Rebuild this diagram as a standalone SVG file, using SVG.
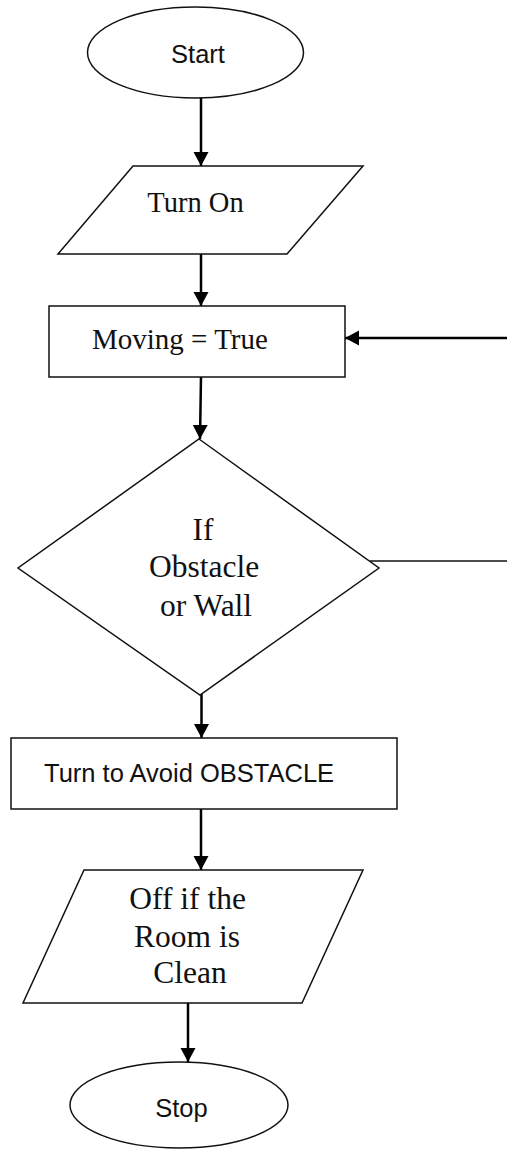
<svg xmlns="http://www.w3.org/2000/svg" width="507" height="1149" viewBox="0 0 507 1149">
<style>
.shape{fill:#fff;stroke:#111;stroke-width:1.5}
.conn{fill:none;stroke:#000;stroke-width:2.5}
.plain{fill:none;stroke:#111;stroke-width:1.5}
.sans{font-family:"Liberation Sans",Arial,sans-serif;font-size:25.5px;fill:#111}
.serif{font-family:"Liberation Serif","Times New Roman",serif;fill:#111}
</style>
<defs>
<marker id="ah" markerUnits="userSpaceOnUse" markerWidth="16" markerHeight="16" refX="14" refY="7.5" orient="auto">
<path d="M0,0 L14,7.5 L0,15 z" fill="#000"/>
</marker>
</defs>
<rect width="507" height="1149" fill="#fff"/>
<g id="connectors">
<line class="conn" x1="201" y1="98" x2="201" y2="166" marker-end="url(#ah)"/>
<line class="conn" x1="201" y1="254" x2="201" y2="306" marker-end="url(#ah)"/>
<line class="conn" x1="507" y1="338" x2="345" y2="338" marker-end="url(#ah)"/>
<line class="conn" x1="201" y1="377" x2="200" y2="439" marker-end="url(#ah)"/>
<line class="plain" x1="370" y1="561" x2="507" y2="561"/>
<line class="conn" x1="201.5" y1="687" x2="201.5" y2="738" marker-end="url(#ah)"/>
<line class="conn" x1="201" y1="809" x2="201" y2="870" marker-end="url(#ah)"/>
<line class="conn" x1="188" y1="1003" x2="188" y2="1062" marker-end="url(#ah)"/>
</g>
<g id="start">
<ellipse class="shape" cx="195.5" cy="52.5" rx="108" ry="45.5"/>
<text class="sans" x="198" y="63" text-anchor="middle">Start</text>
</g>
<g id="turn-on">
<polygon class="shape" points="133,166 363,166 287,254 58,254"/>
<text class="serif" x="195.5" y="212" font-size="28.5" text-anchor="middle">Turn On</text>
</g>
<g id="moving">
<rect class="shape" x="49" y="306" width="296" height="71"/>
<text class="serif" x="92" y="349" font-size="29">Moving = True</text>
</g>
<g id="decision">
<polygon class="shape" points="199,439 379,568 200,695 18,568"/>
<text class="serif" font-size="31.5" text-anchor="middle">
<tspan x="207" y="540">If</tspan>
<tspan x="208" y="577">Obstacle</tspan>
<tspan x="206" y="616">or Wall</tspan>
</text>
</g>
<g id="avoid">
<rect class="shape" x="11" y="738" width="386" height="71"/>
<text class="sans" x="44" y="782">Turn to Avoid OBSTACLE</text>
</g>
<g id="off">
<polygon class="shape" points="84,870 363,870 302,1003 23,1003"/>
<text class="serif" font-size="31.5" text-anchor="middle">
<tspan x="191.5" y="909">Off if the</tspan>
<tspan x="191" y="947">Room is</tspan>
<tspan x="190" y="983">Clean</tspan>
</text>
</g>
<g id="stop">
<ellipse class="shape" cx="179" cy="1105" rx="109" ry="43"/>
<text class="sans" x="181.5" y="1117" text-anchor="middle">Stop</text>
</g>
</svg>
